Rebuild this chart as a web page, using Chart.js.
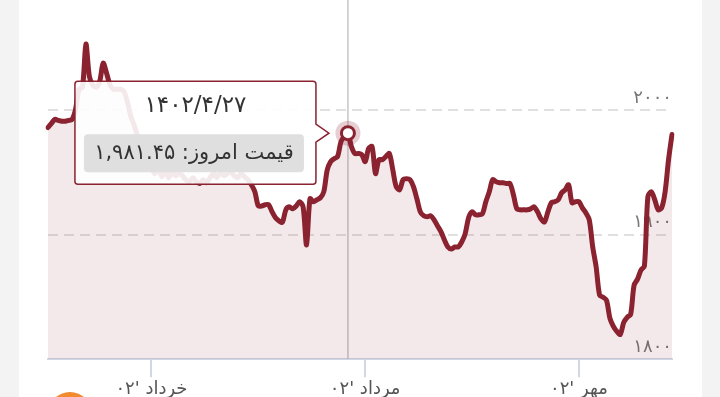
<!DOCTYPE html>
<html>
<head>
<meta charset="utf-8">
<script src="https://cdn.jsdelivr.net/npm/chart.js@4.4.0/dist/chart.umd.min.js"></script>
<style>
  body { margin:0; background:#f3f3f3; width:720px; height:397px; overflow:hidden; position:relative; }
  .card { position:absolute; left:19px; top:0; width:683px; height:397px; background:#fff; }
  .badge { position:absolute; left:48px; top:392px; width:44px; height:44px; border-radius:50%; background:#f28a30; }
  #wrap { position:absolute; left:0; top:-10px; width:720px; height:411px; }
</style>
</head>
<body>
<div class="card"></div>
<div class="badge"></div>
<div id="wrap"><canvas id="myChart" width="720" height="411"></canvas></div>
<script>
//=========================================== DATA ===========================================
// days per month, ordibehesht .. mehr 1402
const monthDays = [31, 31, 31, 31, 31, 30];
const firstMonth = 2, firstDay = 2, lastDay = 28;

var labels = [];
for (var m = 0; m < monthDays.length; m++) {
  for (var d = 1; d <= monthDays[m]; d++) {
    if (m == 0 && d < firstDay) continue;
    if (m == monthDays.length - 1 && d > lastDay) break;
    labels.push('1402/' + (firstMonth + m) + '/' + d);
  }
}

const prices = [
  1986, 1989.3, 1992.5, 1991.7, 1991, 1991, 1991.7, 1992.5, 2000.6, 2016.7,
  2018.3, 2053, 2027, 2020, 2018.3, 2023, 2037.7, 2029.6, 2020, 2016.7,
  2016.7, 2016.7, 2015, 2007, 1995, 1987.7, 1978.8, 1970.7, 1965, 1958.6,
  1953.8, 1949, 1953.8, 1946.5, 1952, 1945.7, 1950.6, 1947.3, 1949, 1947.3,
  1944, 1942.5, 1945.7, 1942.5, 1941, 1944, 1941.7, 1945.7, 1949, 1945.7,
  1950.6, 1947.3, 1949, 1950.6, 1947.3, 1945.7, 1949, 1946.5, 1944, 1940,
  1934.4, 1923, 1923, 1924, 1924, 1918.3, 1913.5, 1911, 1910, 1920,
  1922.3, 1920.7, 1923, 1926.4, 1922.3, 1891.7, 1928.8, 1926.4, 1928, 1929.6,
  1934.4, 1952, 1958.6, 1961, 1962.7, 1974.8, 1978.8, 1981.45, 1970.7, 1965.1,
  1965.1, 1964.3, 1958.6, 1969.1, 1970.7, 1949, 1960.2, 1960.2, 1962.7, 1965.1,
  1952.2, 1938.5, 1936, 1944.1, 1944.9, 1944.1, 1938.5, 1928.8, 1918.3, 1915.1,
  1914.3, 1915.1, 1911.9, 1907, 1902.2, 1895.7, 1890.1, 1888.5, 1890.1, 1890.1,
  1894.1, 1900.6, 1913.5, 1918.3, 1915.9, 1915.9, 1916.7, 1926.4, 1934.4, 1944.1,
  1942.5, 1941.7, 1941.7, 1941, 1941, 1932, 1920.7, 1919.9, 1919.9, 1919.9,
  1920.7, 1922.3, 1918.3, 1912.7, 1910.2, 1918.3, 1925.6, 1926.4, 1928, 1933.6,
  1936, 1940, 1925.6, 1926.4, 1926.4, 1921.5, 1917.5, 1911.9, 1890.1, 1874,
  1851.4, 1849.8, 1847.3, 1832.8, 1826.4, 1822.3, 1819.9, 1829.6, 1833.6, 1836,
  1859.4, 1864.3, 1871.5, 1874.8, 1930.4, 1934.4, 1928, 1919.9, 1921.5, 1934.4,
  1960.2, 1980.4
];

const monthTickIndex = [30, 92, 154];
const monthTickLabels = ["خرداد '۰۲", "مرداد '۰۲", "مهر '۰۲"];

const yTickValues = [1800, 1900, 2000];
const yTickLabels = ['۱۸۰۰', '۱۹۰۰', '۲۰۰۰'];

const activeIndex = 87;
const priceLabel = 'قیمت امروز: ';

const lineColor = '#8a2230';
const fillColor = 'rgba(139,34,48,0.1)';
const faFont = 'DejaVu Sans';

function fa(s) {
  return String(s).replace(/[0-9]/g, function (d) { return '۰۱۲۳۴۵۶۷۸۹'[d]; });
}

//=========================================== TOOLTIP ===========================================
const fixedTooltip = {
  id: 'fixedTooltip',
  beforeDatasetsDraw: function (chart) {
    var pt = chart.getDatasetMeta(0).data[activeIndex];
    var c = chart.ctx, area = chart.chartArea;
    c.save();
    c.strokeStyle = '#c6c6c6';
    c.lineWidth = 1.5;
    c.beginPath();
    c.moveTo(pt.x, 0);
    c.lineTo(pt.x, area.bottom);
    c.stroke();
    c.restore();
  },
  afterDatasetsDraw: function (chart) {
    var pt = chart.getDatasetMeta(0).data[activeIndex];
    var c = chart.ctx;
    c.save();

    // point + halo
    c.fillStyle = 'rgba(139,34,48,0.22)';
    c.beginPath(); c.arc(pt.x, pt.y, 12.5, 0, Math.PI * 2); c.fill();
    c.fillStyle = '#fff';
    c.strokeStyle = lineColor;
    c.lineWidth = 3;
    c.beginPath(); c.arc(pt.x, pt.y, 6.5, 0, Math.PI * 2); c.fill(); c.stroke();

    // box with caret on the right
    var bw = 241, bh = 103, r = 3;
    var right = pt.x - 32, bx = right - bw, by = pt.y - 52;
    var tip = pt.x - 19;
    c.beginPath();
    c.moveTo(bx + r, by);
    c.lineTo(right - r, by);
    c.arcTo(right, by, right, by + r, r);
    c.lineTo(right, pt.y - 9);
    c.lineTo(tip, pt.y);
    c.lineTo(right, pt.y + 9);
    c.lineTo(right, by + bh - r);
    c.arcTo(right, by + bh, right - r, by + bh, r);
    c.lineTo(bx + r, by + bh);
    c.arcTo(bx, by + bh, bx, by + bh - r, r);
    c.lineTo(bx, by + r);
    c.arcTo(bx, by, bx + r, by, r);
    c.closePath();
    c.fillStyle = 'rgba(255,255,255,0.9)';
    c.fill();
    c.strokeStyle = lineColor;
    c.lineWidth = 1.5;
    c.stroke();

    // body background
    c.fillStyle = '#dfdfdf';
    c.beginPath();
    c.roundRect(bx + 9, by + 53, 220, 38, 4);
    c.fill();

    c.fillStyle = '#333';
    c.textAlign = 'center';
    c.textBaseline = 'middle';
    c.font = '23px "' + faFont + '"';
    c.fillText(fa(labels[activeIndex]), bx + bw / 2, by + 25);
    c.font = '21px "' + faFont + '"';
    var val = prices[activeIndex].toLocaleString('en-US', { minimumFractionDigits: 2 });
    c.fillText(priceLabel + fa(val), bx + 9 + 110, by + 72);
    c.restore();
  }
};

//=========================================== CHART ===========================================
var ctx = document.getElementById('myChart').getContext('2d');
var chart = new Chart(ctx, {
  type: 'line',
  data: {
    labels: labels,
    datasets: [{
      data: prices,
      borderColor: lineColor,
      backgroundColor: fillColor,
      borderWidth: 5,
      fill: 'start',
      tension: 0.3,
      pointRadius: 0,
      borderJoinStyle: 'round',
      borderCapStyle: 'round'
    }]
  },
  options: {
    responsive: false,
    animation: false,
    devicePixelRatio: 1,
    layout: { padding: { left: 48, right: 48, top: 0, bottom: 0 } },
    plugins: { legend: { display: false }, tooltip: { enabled: false } },
    scales: {
      x: {
        offset: false,
        border: { color: '#cfd9e6', width: 2 },
        grid: { drawOnChartArea: false, drawTicks: true, tickLength: 18, color: '#cfd9e6', lineWidth: 2 },
        afterBuildTicks: function (scale) {
          scale.ticks = monthTickIndex.map(function (v) { return { value: v }; });
        },
        ticks: {
          autoSkip: false, maxRotation: 0, padding: 2, color: '#555',
          font: { family: faFont, size: 18, lineHeight: 1.1 },
          callback: function (value) { return monthTickLabels[monthTickIndex.indexOf(value)]; }
        }
      },
      y: {
        position: 'right',
        min: 1800,
        max: 2087.7,
        border: { display: false, dash: [10, 6] },
        grid: {
          drawTicks: false,
          lineWidth: 2,
          color: function (c) { return c.tick && c.tick.value == 1800 ? 'rgba(0,0,0,0)' : '#e0e0e0'; }
        },
        afterBuildTicks: function (scale) {
          scale.ticks = yTickValues.map(function (v) { return { value: v }; });
        },
        ticks: {
          mirror: true, padding: 0, labelOffset: -12, color: '#777',
          font: { family: faFont, size: 18 },
          callback: function (value) { return yTickLabels[yTickValues.indexOf(value)]; }
        }
      }
    }
  },
  plugins: [fixedTooltip]
});
</script>
</body>
</html>
